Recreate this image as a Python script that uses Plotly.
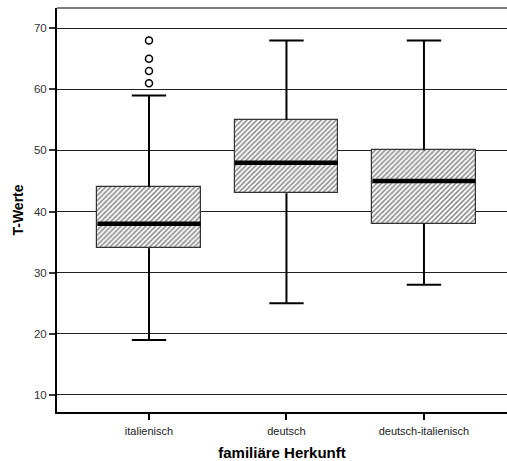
import plotly.graph_objects as go

# Box-plot summary per group (T-Werte)
categories = ["italienisch", "deutsch", "deutsch-italienisch"]
lower_whisker = [19, 25, 28]
q1 = [34, 43, 38]
median = [38, 48, 45]
q3 = [44, 55, 50]
upper_whisker = [59, 68, 68]
outliers = [[61, 63, 65, 68], [], []]
y_ticks = [10, 20, 30, 40, 50, 60, 70]

pos = list(range(len(categories)))
box_w = 0.75
cap_w = 0.25

fig = go.Figure()

# whiskers (vertical stems) and caps
wx, wy = [], []
for p, lo, a, b, hi in zip(pos, lower_whisker, q1, q3, upper_whisker):
    wx += [p, p, None, p, p, None]
    wy += [hi, b, None, a, lo, None]
    wx += [p - cap_w / 2, p + cap_w / 2, None, p - cap_w / 2, p + cap_w / 2, None]
    wy += [hi, hi, None, lo, lo, None]
fig.add_trace(go.Scatter(x=wx, y=wy, mode="lines",
                         line=dict(color="black", width=2),
                         hoverinfo="skip", showlegend=False))

# hatched boxes
fig.add_trace(go.Bar(
    x=pos, base=q1, y=[b - a for a, b in zip(q1, q3)], width=box_w,
    marker=dict(color="white",
                line=dict(color="#333333", width=1.2),
                pattern=dict(shape="/", fgcolor="#111111", bgcolor="white",
                             size=3.5, solidity=0.45)),
    showlegend=False,
))

# medians
mx, my = [], []
for p, m in zip(pos, median):
    mx += [p - box_w / 2, p + box_w / 2, None]
    my += [m, m, None]
fig.add_trace(go.Scatter(x=mx, y=my, mode="lines",
                         line=dict(color="black", width=4.5),
                         hoverinfo="skip", showlegend=False))

# outliers
ox, oy = [], []
for p, vals in zip(pos, outliers):
    ox += [p] * len(vals)
    oy += vals
fig.add_trace(go.Scatter(x=ox, y=oy, mode="markers",
                         marker=dict(symbol="circle-open", size=7,
                                     color="black", line=dict(width=1.5)),
                         showlegend=False))

font = "Arial, Liberation Sans, sans-serif"

fig.update_layout(
    width=507, height=461,
    margin=dict(l=57, r=0, t=8, b=49),
    paper_bgcolor="white", plot_bgcolor="white",
    font=dict(family=font, color="#222222"),
    bargap=0,
    xaxis=dict(
        range=[-0.669, 2.604], tickvals=pos, ticktext=categories,
        tickfont=dict(size=11, color="#222222"),
        ticks="outside", ticklen=6, tickwidth=1.5, tickcolor="black",
        ticklabelstandoff=2,
        showline=True, linecolor="black", linewidth=2,
        showgrid=False, zeroline=False,
        title=dict(text="<b>familiäre Herkunft</b>", font=dict(size=15, color="black"),
                   standoff=12),
    ),
    yaxis=dict(
        range=[7.2, 73.3], tickvals=y_ticks,
        tickfont=dict(size=11.5, color="#333333"),
        ticks="outside", ticklen=6, tickwidth=1.5, tickcolor="#333333",
        showline=True, linecolor="black", linewidth=2,
        showgrid=True, gridcolor="#222222", gridwidth=1,
        zeroline=False,
        title=dict(text="<b>T-Werte</b>", font=dict(size=14, color="black"),
                   standoff=7),
    ),
    shapes=[dict(type="line", xref="paper", yref="paper", x0=0, x1=1, y0=1, y1=1,
                 line=dict(color="#555555", width=1.5))],
)

fig.write_html("out.html")
